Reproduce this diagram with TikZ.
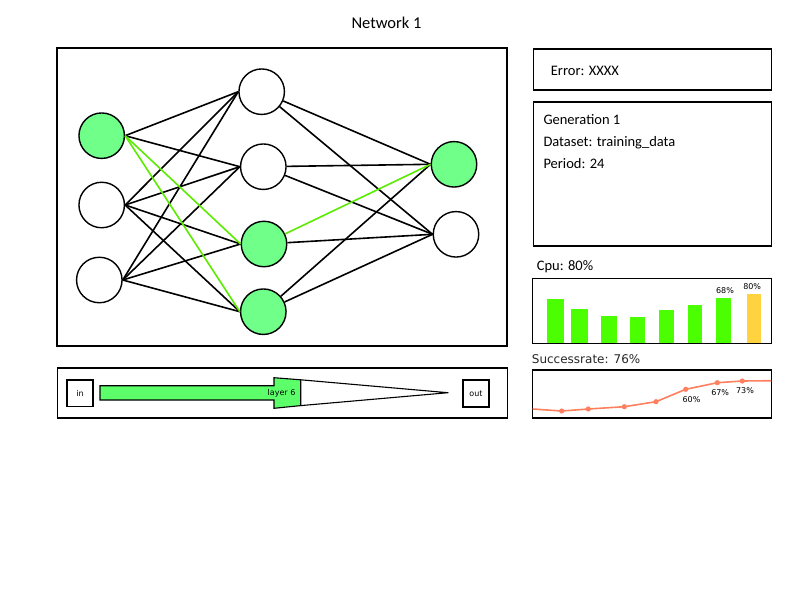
\documentclass[tikz,border=0pt]{standalone}
\usepackage{fontspec}
\setmainfont{Carlito}
\newfontfamily\labelfont{DejaVu Sans}
\usetikzlibrary{positioning}
\definecolor{nodegreen}{RGB}{112,255,136}
\definecolor{linegreen}{RGB}{90,235,0}
\definecolor{bargreen}{RGB}{76,255,0}
\definecolor{baryellow}{RGB}{255,210,64}
\definecolor{arrowgreen}{RGB}{92,255,106}
\definecolor{trendred}{RGB}{255,127,95}
\tikzset{
  neuron/.style={circle,draw,line width=1.4pt,minimum size=45.5pt,inner sep=0pt,fill=white},
  active/.style={neuron,fill=nodegreen},
  link/.style={line width=1.6pt},
  hot/.style={line width=1.6pt,draw=linegreen},
  panel/.style={draw,line width=1.8pt,inner sep=0pt,minimum width=#1},
  panel/.default=238pt,
  txt/.style={anchor=base west,inner sep=0pt,font=\fontsize{14.5}{17}\selectfont},
  tag/.style={anchor=base,inner sep=0pt,font=\labelfont\fontsize{8}{10}\selectfont},
  tagbox/.style={draw,line width=1.8pt,inner sep=0pt,minimum size=26.5pt,
    font=\labelfont\fontsize{8}{10}\selectfont}
}

\begin{document}
\begin{tikzpicture}
  [x=1pt,y=-1pt]
  \useasboundingbox (0,0) rectangle (800,600);

  \node (Title) [anchor=base,inner sep=0pt,font=\fontsize{16.5}{19}\selectfont] at (386.5,28.3) {Network 1};

  % network
  \node (Network_panel) [panel=450pt,minimum height=298pt] at (282,197) {};

  \node (Input_1) [active] at (101.7,135.7) {};
  \node (Input_2) [neuron] at (101.7,205) {};
  \node (Input_3) [neuron] at (99.3,280) {};

  \node (Hidden_1) [neuron] at (261.7,91.7) {};
  \node (Hidden_2) [neuron] at (263.3,166.7) {};
  \node (Hidden_3) [active] at (264,244) {};
  \node (Hidden_4) [active] at (263.3,311.7) {};

  \node (Output_1) [active] at (454,164.3) {};
  \node (Output_2) [neuron] at (456,234.3) {};

  \draw [link] (Input_1.east) -- (Hidden_1.west);
  \draw [link] (Input_1.east) -- (Hidden_2.west);
  \draw [link] (Input_2.east) -- (Hidden_1.west);
  \draw [link] (Input_2.east) -- (Hidden_2.west);
  \draw [link] (Input_2.east) -- (Hidden_3.west);
  \draw [link] (Input_2.east) -- (Hidden_4.west);
  \draw [link] (Input_3.east) -- (Hidden_1.west);
  \draw [link] (Input_3.east) -- (Hidden_2.west);
  \draw [link] (Input_3.east) -- (Hidden_3.west);
  \draw [link] (Input_3.east) -- (Hidden_4.west);
  \draw [hot] (Input_1.east) -- (Hidden_3.west);
  \draw [hot] (Input_1.east) -- (Hidden_4.west);

  \draw [link] (Hidden_1) -- (Output_1.west);
  \draw [link] (Hidden_1) -- (Output_2.west);
  \draw [link] (Hidden_2) -- (Output_1.west);
  \draw [link] (Hidden_2) -- (Output_2.west);
  \draw [link] (Hidden_3) -- (Output_2.west);
  \draw [link] (Hidden_4) -- (Output_1.west);
  \draw [link] (Hidden_4) -- (Output_2.west);
  \draw [hot] (Hidden_3) -- (Output_1.west);

  % layer progress
  \node (Layer_panel) [panel=450pt,minimum height=50.5pt] at (282.5,392.9) {};
  \node (In) [tagbox] at (80,393.2) {in};
  \node (Out) [tagbox] at (475.9,393.5) {out};
  \coordinate (Arrow_tip) at (448,392.7);
  \filldraw [fill=arrowgreen,line width=1.1pt]
    (100,385.7) -- (274,385.7) -- (274,377.7) -- (300.7,379.8)
    -- (300.7,405.6) -- (274,408.3) -- (274,400) -- (100,400) -- cycle;
  \draw [line width=1.1pt,line join=round] (300.7,379.8) -- (Arrow_tip) -- (300.7,405.6);
  \node (Layer_label) [tag] at (281.5,395.3) {layer 6};

  % status
  \node (Error_panel) [panel,minimum height=41pt] at (652.5,69.2) {};
  \node (Error_text) [txt] at (550.7,75) {Error: XXXX};

  \node (Generation_panel) [panel,minimum height=144pt] at (652.5,173.7) {};
  \node (Generation_text) [txt] at (543.3,124.5) {Generation 1};
  \node (Dataset_text) [txt] at (543.3,146.5) {Dataset: training\_data};
  \node (Period_text) [txt] at (543.3,168.5) {Period: 24};

  % cpu
  \node (Cpu_text) [txt] at (536.7,270) {Cpu: 80\%};
  \node (Cpu_panel) [panel=239pt,minimum height=65pt] at (652,311) {};
  \fill [bargreen] (547.3,343.4) rectangle (564,299);
  \fill [bargreen] (571.3,343.4) rectangle (588,309);
  \fill [bargreen] (601,343.4) rectangle (617,316);
  \fill [bargreen] (630,343.4) rectangle (645.3,317);
  \fill [bargreen] (659,343.4) rectangle (674,310);
  \fill [bargreen] (688,343.4) rectangle (702,305);
  \fill [bargreen] (716,343.4) rectangle (731,298);
  \fill [baryellow] (747,343.4) rectangle (761,294);
  \node (Cpu_68) [tag] at (725,293.3) {68\%};
  \node (Cpu_80) [tag] at (752.2,289.3) {80\%};

  % success rate
  \node (Success_text) [anchor=base west,inner sep=0pt,font=\labelfont\fontsize{12}{14}\selectfont,text=black!85]
    at (531.7,363.3) {Successrate: 76\%};
  \node (Success_panel) [panel=239pt,minimum height=48pt] at (652,394.2) {};
  \draw [trendred,line width=1.6pt,line join=round]
    (532.7,409) -- (561.7,411) -- (588.3,409) -- (624.3,406.7) -- (656,401.7)
    -- (685.7,389.3) -- (717.3,382.7) -- (742.3,381) -- (771.3,380.7);
  \foreach \p in {(561.7,411),(588.3,409),(624.3,406.7),(656,401.7),(685.7,389.3),(717.3,382.7),(742.3,381)}
    \fill [trendred] \p circle (2.6pt);
  \node (Success_60) [tag] at (691.5,402.3) {60\%};
  \node (Success_67) [tag] at (720.2,395.7) {67\%};
  \node (Success_73) [tag] at (745,393.3) {73\%};
\end{tikzpicture}
\end{document}
